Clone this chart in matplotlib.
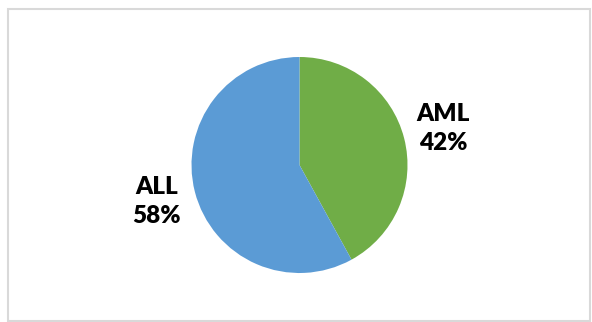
import matplotlib.pyplot as plt
from matplotlib.patches import Rectangle

# Data
categories = ['AML', 'ALL']
shares = [42, 58]
colors = ['#70AD47', '#5B9BD5']

fig = plt.figure(figsize=(5.92, 3.22), dpi=100)
fig.patch.set_facecolor('white')

# chart border
fig.patches.append(Rectangle((7.5 / 592, 1.5 / 322), 582.5 / 592, 312 / 322,
                             transform=fig.transFigure, fill=False,
                             edgecolor='#D9D9D9', linewidth=1.5))

# square axes holding the pie
ax = fig.add_axes([191.5 / 592, 49 / 322, 216 / 592, 216 / 322])

labels = [f'{c}\n{s}%' for c, s in zip(categories, shares)]
ax.pie(shares, labels=labels, colors=colors, startangle=90, counterclock=False,
       radius=1, labeldistance=1.37,
       textprops=dict(fontsize=17.5, fontweight='heavy', family=['Lato', 'DejaVu Sans'],
                      ha='center', va='center', linespacing=1.4, color='black'))
ax.set_xlim(-1, 1)
ax.set_ylim(-1, 1)
ax.set_aspect('equal')
ax.axis('off')

fig.savefig('out.png', dpi=100)
